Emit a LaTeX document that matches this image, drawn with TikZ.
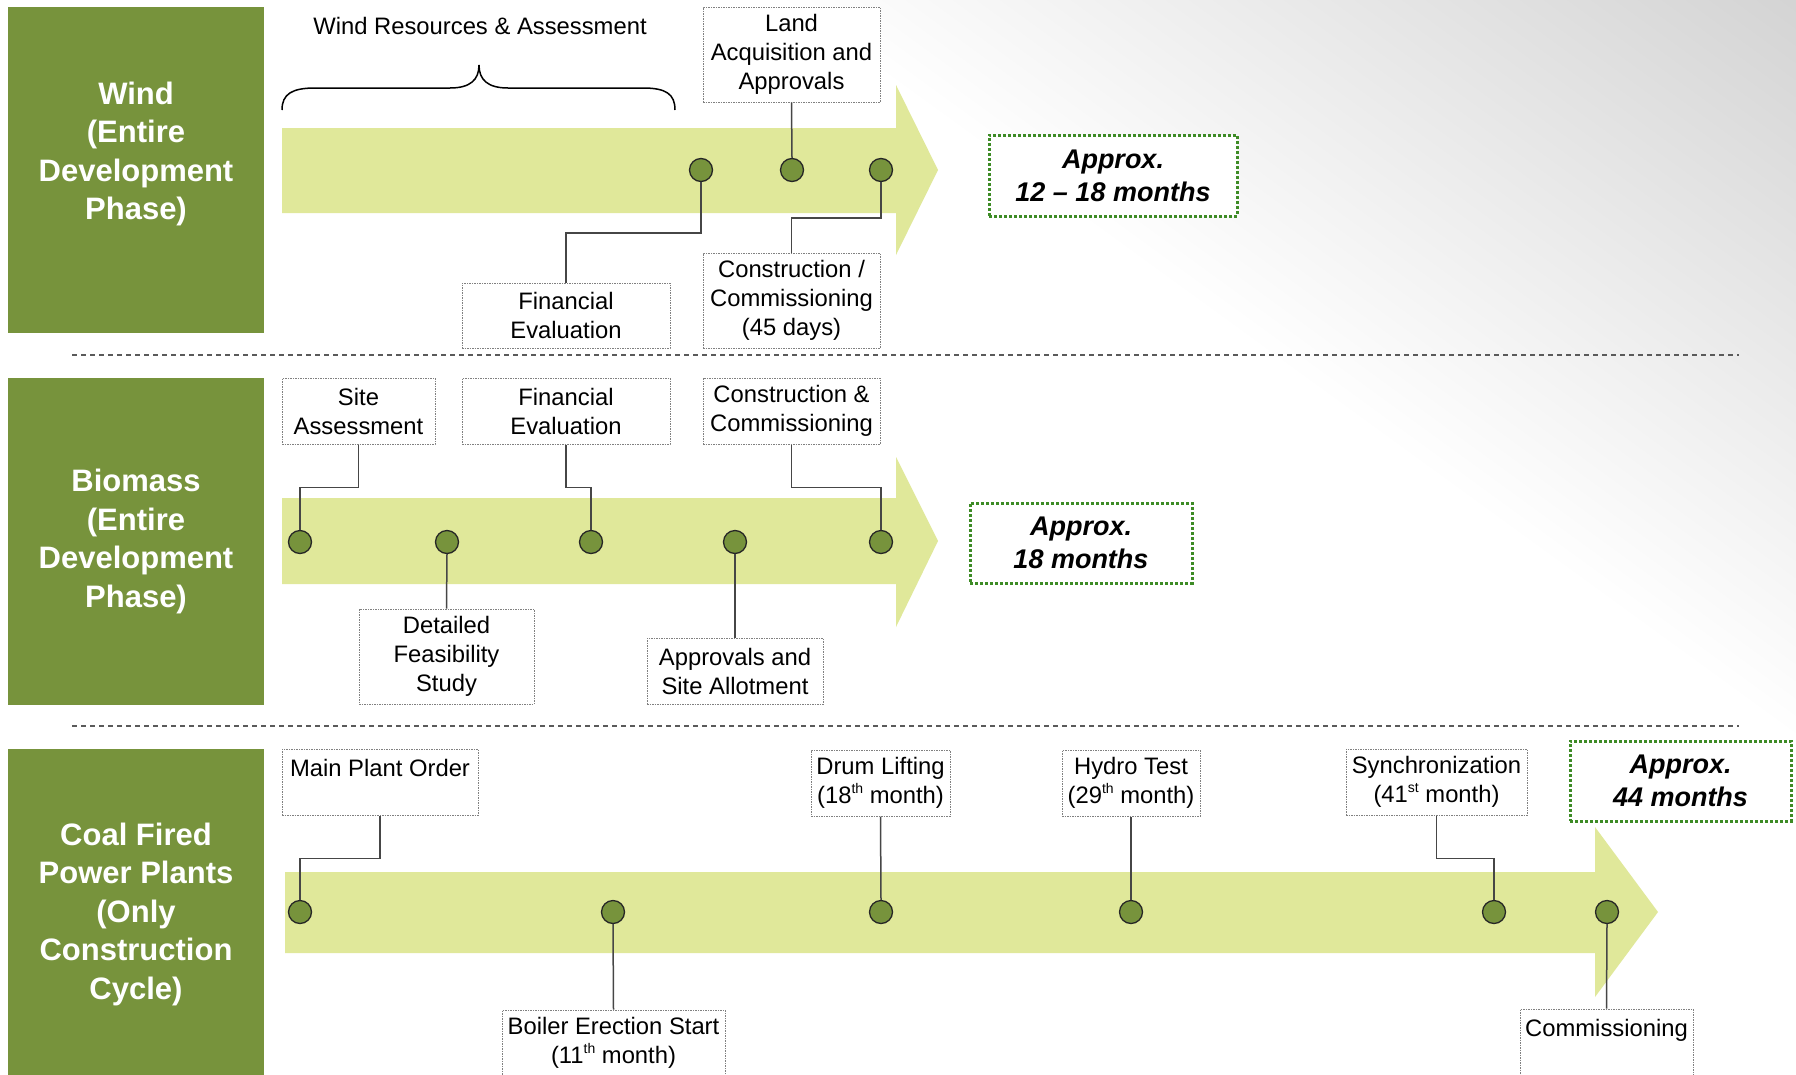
\documentclass[tikz,border=0pt]{standalone}
\usepackage{fontspec}
\setmainfont{Liberation Sans}
\usepackage{tikz}

\definecolor{sectorgreen}{RGB}{119,147,60}
\definecolor{bandyellow}{RGB}{224,232,154}
\definecolor{approxgreen}{RGB}{61,139,37}
\definecolor{linegray}{RGB}{70,70,70}
\definecolor{boxgray}{RGB}{128,128,128}
\definecolor{sepgray}{RGB}{90,90,90}
\pgfdeclarehorizontalshading{cornershade}{2400bp}{color(0bp)=(white); color(700bp)=(white); color(1300bp)=(black!17); color(1400bp)=(black!19)}
\newcommand{\nth}[1]{\raisebox{0.42em}{\fontsize{14}{14}\selectfont #1}}

\begin{document}
\begin{tikzpicture}[x=1pt,y=-1pt]
\tikzstyle{every node}+=[inner sep=0pt]
\tikzstyle{sector}=[fill=sectorgreen, text=white, align=center, minimum width=256pt, font=\bfseries\fontsize{31}{38.5}\selectfont]
\tikzstyle{lbl}=[draw=boxgray, fill=white, line width=1pt, dash pattern=on 1.5pt off 1pt, align=center, font=\fontsize{23.8}{29}\selectfont]
\tikzstyle{ms}=[circle, minimum size=23pt, fill=sectorgreen, draw=black!85, line width=1.3pt]
\tikzstyle{approx}=[draw=approxgreen, fill=white, line width=3pt, dash pattern=on 2.7pt off 2.3pt, align=center, font=\bfseries\itshape\fontsize{27}{33}\selectfont]
\tikzstyle{conn}=[draw=linegray, line width=1.5pt]
\tikzstyle{sep}=[draw=sepgray, line width=2pt, dash pattern=on 5pt off 4pt]
\tikzstyle{band}=[fill=bandyellow]

\useasboundingbox (0,0) rectangle (1796,1074);
\node[rotate=54] (bg) at (1443.3,485.4) {\pgfuseshading{cornershade}};

\node[sector, minimum height=326pt] (wind) at (136,170) {Wind\\(Entire\\Development\\Phase)\\~};
\node[sector, minimum height=327pt] (biomass) at (136,541.5) {Biomass\\(Entire\\Development\\Phase)};
\node[sector, minimum height=330pt] (coal) at (136,914) {Coal Fired\\Power Plants\\(Only\\Construction\\Cycle)};

\draw[sep] (72,355) -- (1739,355);
\draw[sep] (72,726) -- (1739,726);

\fill[band] (282,128) -- (896,128) -- (896,85) -- (938,170) -- (896,255) -- (896,213) -- (282,213) -- cycle;
\fill[band] (282,498) -- (896,498) -- (896,457) -- (938,541) -- (896,627) -- (896,584) -- (282,584) -- cycle;
\fill[band] (285,872) -- (1595,872) -- (1595,827) -- (1658,912) -- (1595,997) -- (1595,953) -- (285,953) -- cycle;

\node[font=\fontsize{23.8}{29}\selectfont] (wra) at (480,26) {Wind Resources \& Assessment};
\draw[line width=1.5pt] (282,110) .. controls (282,94) and (292,88) .. (315,88) -- (450,88) .. controls (470,88) and (479,80) .. (479,65) .. controls (479,80) and (488,88) .. (508,88) -- (643,88) .. controls (666,88) and (675,94) .. (675,110);

\node[ms] (w1) at (701,170) {};
\node[ms] (w2) at (792,170) {};
\node[ms] (w3) at (881,170) {};
\node[lbl, minimum width=177pt, minimum height=95pt] (wla) at (791.5,54.5) {Land\\Acquisition and\\Approvals};
\node[lbl, minimum width=208pt, minimum height=65pt] (wfe) at (566,315.5) {Financial\\Evaluation};
\node[lbl, minimum width=177pt, minimum height=95pt] (wcc) at (791.5,300.5) {Construction /\\Commissioning\\(45 days)};
\node[approx, minimum width=248pt, minimum height=81pt] (wapx) at (1113,175.5) {Approx.\\12 – 18 months};
\draw[conn] (wla.south) -- (w2.north);
\draw[conn] (w1.south) -- ++(0,51) -| (wfe.north);
\draw[conn] (w3.south) -- ++(0,36) -| (wcc.north);

\node[ms] (b1) at (300,542) {};
\node[ms] (b2) at (447,542) {};
\node[ms] (b3) at (591,542) {};
\node[ms] (b4) at (735,542) {};
\node[ms] (b5) at (881,542) {};
\node[lbl, minimum width=153pt, minimum height=66pt] (bsa) at (358.5,411) {Site\\Assessment};
\node[lbl, minimum width=208pt, minimum height=66pt] (bfe) at (566,411) {Financial\\Evaluation};
\node[lbl, minimum width=177pt, minimum height=66pt] (bcc) at (791.5,411) {Construction \&\\Commissioning};
\node[lbl, minimum width=175pt, minimum height=95pt] (bdf) at (446.5,656.5) {Detailed\\Feasibility\\Study};
\node[lbl, minimum width=176pt, minimum height=66pt] (bas) at (735,671) {Approvals and\\Site Allotment};
\node[approx, minimum width=222pt, minimum height=80pt] (bapx) at (1081,543) {Approx.\\18 months};
\draw[conn] (bsa.south) -- ++(0,43) -| (b1.north);
\draw[conn] (bfe.south) -- ++(0,43) -| (b3.north);
\draw[conn] (bcc.south) -- ++(0,43) -| (b5.north);
\draw[conn] (b2.south) -- (bdf.north);
\draw[conn] (b4.south) -- (bas.north);

\node[ms] (c1) at (300,912) {};
\node[ms] (c2) at (613,912) {};
\node[ms] (c3) at (881,912) {};
\node[ms] (c4) at (1131,912) {};
\node[ms] (c5) at (1494,912) {};
\node[ms] (c6) at (1607,912) {};
\node[lbl, minimum width=196pt, minimum height=66pt] (cmp) at (380,782) {Main Plant Order\\~};
\node[lbl, minimum width=139pt, minimum height=66pt] (cdl) at (880.5,783) {Drum Lifting\\(18\nth{th} month)};
\node[lbl, minimum width=138pt, minimum height=66pt] (cht) at (1131,783) {Hydro Test\\(29\nth{th} month)};
\node[lbl, minimum width=181pt, minimum height=66pt] (csy) at (1436.5,782) {Synchronization\\(41\nth{st} month)};
\node[lbl, minimum width=223pt, minimum height=66pt] (cbe) at (613.5,1043) {Boiler Erection Start\\(11\nth{th} month)};
\node[lbl, minimum width=173pt, minimum height=66pt] (cco) at (1606.5,1042) {Commissioning\\~};
\node[approx, minimum width=221pt, minimum height=80pt] (capx) at (1680.5,781) {Approx.\\44 months};
\draw[conn] (cmp.south) -- ++(0,43) -| (c1.north);
\draw[conn] (c2.south) -- (cbe.north);
\draw[conn] (cdl.south) -- (c3.north);
\draw[conn] (cht.south) -- (c4.north);
\draw[conn] (csy.south) -- ++(0,43) -| (c5.north);
\draw[conn] (c6.south) -- (cco.north);
\end{tikzpicture}
\end{document}
